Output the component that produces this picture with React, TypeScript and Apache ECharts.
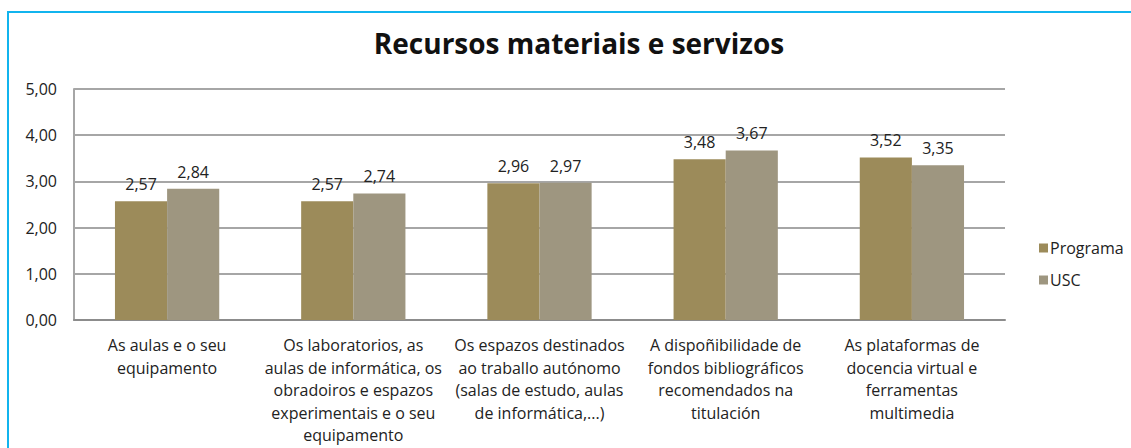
import React, { useEffect, useRef } from "react";
import * as echarts from "echarts";

const categories = [
  "As aulas e o seu\nequipamento",
  "Os laboratorios, as\naulas de informática, os\nobradoiros e espazos\nexperimentais e o seu\nequipamento",
  "Os espazos destinados\nao traballo autónomo\n(salas de estudo, aulas\nde informática,...)",
  "A dispoñibilidade de\nfondos bibliográficos\nrecomendados na\ntitulación",
  "As plataformas de\ndocencia virtual e\nferramentas\nmultimedia",
];
const programa = [2.57, 2.57, 2.96, 3.48, 3.52];
const usc = [2.84, 2.74, 2.97, 3.67, 3.35];
const seriesNames = ["Programa", "USC"];
const titleText = "Recursos materiais e servizos";

const FONT = "'Open Sans', Lato, sans-serif";
const fmt = (v: number) => v.toFixed(2).replace(".", ",");

export default function App() {
  const ref = useRef<HTMLDivElement>(null);
  useEffect(() => {
    if (!ref.current) return;
    const chart = echarts.init(ref.current, undefined, { renderer: "svg" });
    chart.setOption({
      animation: false,
      backgroundColor: "#ffffff",
      textStyle: { fontFamily: FONT },
      title: {
        text: titleText,
        left: 574,
        top: 24,
        textAlign: "center",
        textStyle: { fontSize: 28, fontWeight: "bold", color: "#111", fontFamily: FONT },
      },
      graphic: [
        {
          type: "rect",
          shape: { x: 8, y: 12, width: 1140, height: 460 },
          style: { fill: "none", stroke: "#11b4ee", lineWidth: 2 },
          silent: true,
        },
      ],
      legend: {
        orient: "vertical",
        left: 1034,
        top: 235,
        itemWidth: 9,
        itemHeight: 9,
        itemGap: 16,
        icon: "rect",
        textStyle: { fontSize: 16, color: "#222", fontFamily: FONT, padding: [0, 0, 0, -3] },
        data: seriesNames,
      },
      grid: { left: 74, right: 126, top: 89, bottom: 128, containLabel: false },
      xAxis: {
        type: "category",
        data: categories,
        axisLine: { lineStyle: { color: "#8c8c8c", width: 2 } },
        axisTick: { show: false },
        axisLabel: {
          interval: 0,
          fontSize: 16,
          color: "#222",
          lineHeight: 22.5,
          margin: 14,
          fontFamily: FONT,
          verticalAlign: "top",
        },
      },
      yAxis: {
        type: "value",
        min: 0,
        max: 5,
        interval: 1,
        axisLine: { show: true, lineStyle: { color: "#a6a6a6", width: 2 } },
        axisTick: { show: false },
        splitLine: { lineStyle: { color: "#a6a6a6", width: 2 } },
        axisLabel: {
          fontSize: 16,
          color: "#222",
          margin: 17,
          fontFamily: FONT,
          formatter: (v: number) => fmt(v),
        },
      },
      series: [
        {
          name: seriesNames[0],
          type: "bar",
          data: programa,
          barGap: "0%",
          barCategoryGap: "44%",
          itemStyle: { color: "#9c8b5a" },
          label: {
            show: true,
            position: "top",
            distance: 9,
            fontSize: 16,
            color: "#222",
            fontFamily: FONT,
            formatter: (p: any) => fmt(p.value),
          },
        },
        {
          name: seriesNames[1],
          type: "bar",
          data: usc,
          barGap: "0%",
          barCategoryGap: "44%",
          itemStyle: { color: "#9e9680" },
          label: {
            show: true,
            position: "top",
            distance: 9,
            fontSize: 16,
            color: "#222",
            fontFamily: FONT,
            formatter: (p: any) => fmt(p.value),
          },
        },
      ],
    });
    return () => chart.dispose();
  }, []);
  return (
    <div
      ref={ref}
      style={{ position: "fixed", left: 0, top: 0, width: 1131, height: 448 }}
    />
  );
}
